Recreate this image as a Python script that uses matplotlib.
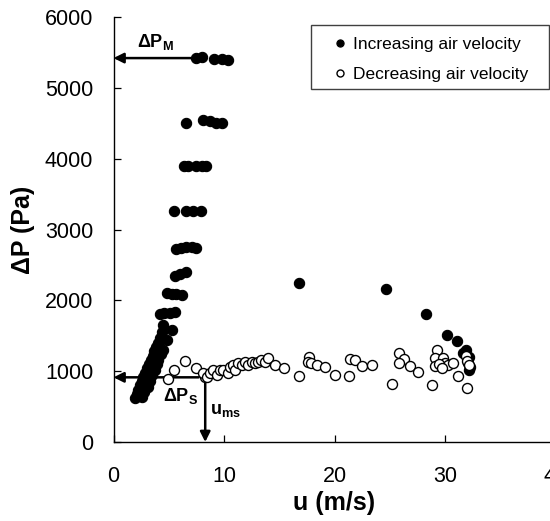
import matplotlib
matplotlib.use("Agg")
import matplotlib.pyplot as plt
from matplotlib.patches import Rectangle

plt.rcParams['font.family'] = ['Liberation Sans', 'DejaVu Sans']
plt.rcParams['mathtext.fontset'] = 'custom'
plt.rcParams['mathtext.rm'] = 'Liberation Sans'
plt.rcParams['mathtext.bf'] = 'Liberation Sans:bold'
plt.rcParams['mathtext.it'] = 'Liberation Sans:italic'

# Increasing air velocity (filled)
u_inc = [1.95, 2.1, 2.25, 2.4, 2.55, 2.7, 2.85, 3.0, 3.2, 3.4, 3.55, 3.7, 3.85, 4.0, 4.2, 4.4, 4.5,
         2.55, 2.8, 3.1, 3.3, 3.5, 3.75, 3.9, 4.0, 4.3, 4.5, 4.8, 5.3,
         4.2, 4.6, 5.1, 5.6,
         4.8, 5.3, 5.7, 6.2,
         5.6, 6.0, 6.6,
         5.7, 6.1, 6.6, 7.1, 7.5,
         5.5, 6.6, 7.2, 7.9,
         6.4, 6.7, 7.5, 8.0, 8.4,
         6.6, 8.1, 8.7, 9.3, 9.8,
         7.5, 8.0, 9.1, 9.8, 10.4,
         16.8, 24.7, 28.3, 30.2, 31.05, 31.9, 31.6, 32.2, 32.1, 32.2, 32.3]
dp_inc = [620, 680, 740, 800, 860, 920, 980, 1040, 1100, 1160, 1220, 1280, 1340, 1400, 1470, 1560, 1650,
          630, 700, 780, 860, 940, 1020, 1100, 1160, 1240, 1300, 1440, 1580,
          1810, 1815, 1825, 1835,
          2110, 2095, 2085, 2070,
          2350, 2375, 2400,
          2720, 2740, 2750, 2750, 2740,
          3260, 3260, 3260, 3260,
          3900, 3900, 3900, 3900, 3890,
          4500, 4540, 4530, 4510, 4510,
          5420, 5430, 5410, 5410, 5390,
          2240, 2155, 1810, 1505, 1420, 1300, 1250, 1200, 1110, 1016, 1060]

# Decreasing air velocity (open)
u_dec = [4.9, 5.5, 6.5, 7.5, 8.3, 8.13, 8.43, 8.73, 9.03, 9.33, 9.64, 9.94, 10.39, 10.54,
         10.84, 10.99, 11.29, 11.59, 11.89, 12.19, 12.49, 12.79, 13.09, 13.39, 13.69, 13.99,
         14.59, 15.4, 16.8, 17.72, 17.63, 17.85, 18.45, 19.1, 20.05, 21.3, 21.4, 21.9, 22.5,
         23.4, 25.2, 25.8, 26.3, 25.8, 26.8, 27.6, 28.8, 29.27, 29.05, 29.1, 29.8, 30.0,
         30.3, 30.7, 31.2, 32.0, 31.9, 32.0, 32.2, 29.5, 29.7]
dp_dec = [890, 1010, 1140, 1040, 920, 969, 922, 969, 1016, 945, 1016, 1016, 969, 1063,
          1086, 1016, 1110, 1086, 1133, 1086, 1133, 1110, 1133, 1157, 1133, 1180,
          1086, 1045, 935, 1200, 1135, 1115, 1086, 1053, 950, 932, 1175, 1157, 1072,
          1086, 815, 1255, 1175, 1110, 1072, 995, 805, 1298, 1190, 1072, 1180, 1120,
          1090, 1115, 932, 760, 1220, 1140, 1086, 1100, 1050]

x_ticks = [0, 10, 20, 30, 40]
y_ticks = [0, 1000, 2000, 3000, 4000, 5000, 6000]

dp_m = 5420
dp_s = 913
u_ms = 8.3

W, H = 550, 521
fig = plt.figure(figsize=(W / 100, H / 100), dpi=100)
ax = fig.add_axes([113.5 / W, 1 - 442 / H, 442 / W, 425 / H])

ax.plot(u_inc, dp_inc, 'o', ms=7.4, color='black', mec='black', mew=0.8,
        label='Increasing air velocity', zorder=3)
ax.plot(u_dec, dp_dec, 'o', ms=7.2, mfc='white', mec='black', mew=1.0,
        label='Decreasing air velocity', zorder=4)

ax.set_xlim(0, 40)
ax.set_ylim(0, 6000)
ax.set_xticks(x_ticks)
ax.set_yticks(y_ticks)
for s in ['top', 'right']:
    ax.spines[s].set_visible(False)
for s in ['left', 'bottom']:
    ax.spines[s].set_linewidth(1.0)
ax.tick_params(direction='in', length=5, width=0.9, labelsize=15.5)
ax.tick_params(axis='x', pad=17)
ax.tick_params(axis='y', pad=14.5)

ax.set_xlabel('u (m/s)', fontsize=18, fontweight='bold', va='center')
ax.set_ylabel('ΔP (Pa)', fontsize=18, fontweight='bold', va='center')
ax.xaxis.set_label_coords(0.5, (442 - 503) / 425)
ax.yaxis.set_label_coords((23 - 113.5) / 442, 0.5)

arr = dict(arrowstyle='-|>', lw=1.8, color='black', mutation_scale=15, shrinkA=0, shrinkB=0)
ax.annotate('', xy=(0, dp_m), xytext=(7.0, dp_m), arrowprops=arr, annotation_clip=False)
ax.annotate('', xy=(0, dp_s), xytext=(7.7, dp_s), arrowprops=arr, annotation_clip=False)
ax.annotate('', xy=(u_ms, 0), xytext=(u_ms, 833), arrowprops=arr, annotation_clip=False)

ax.text(2.1, 5640, r'$\mathbf{ΔP_M}$', fontsize=13, va='center', ha='left')
ax.text(4.45, 650, r'$\mathbf{ΔP_S}$', fontsize=13, va='center', ha='left')
ax.text(8.7, 440, r'$\mathbf{u_{ms}}$', fontsize=13, va='center', ha='left')

leg = ax.legend(loc='upper left', bbox_to_anchor=(331 / W, 1 - 36.5 / H),
                bbox_transform=fig.transFigure, frameon=False, fontsize=12.5,
                borderpad=0, handlelength=1.0, handletextpad=0.24, labelspacing=0.87,
                markerscale=0.7, borderaxespad=0)

fig.patches.append(Rectangle((310.7 / W, 1 - 89 / H), (549 - 310.7) / W, (89 - 25) / H,
                             transform=fig.transFigure, fill=False, edgecolor='#404040',
                             linewidth=1.0, zorder=5))

fig.savefig('out.png', dpi=100)
